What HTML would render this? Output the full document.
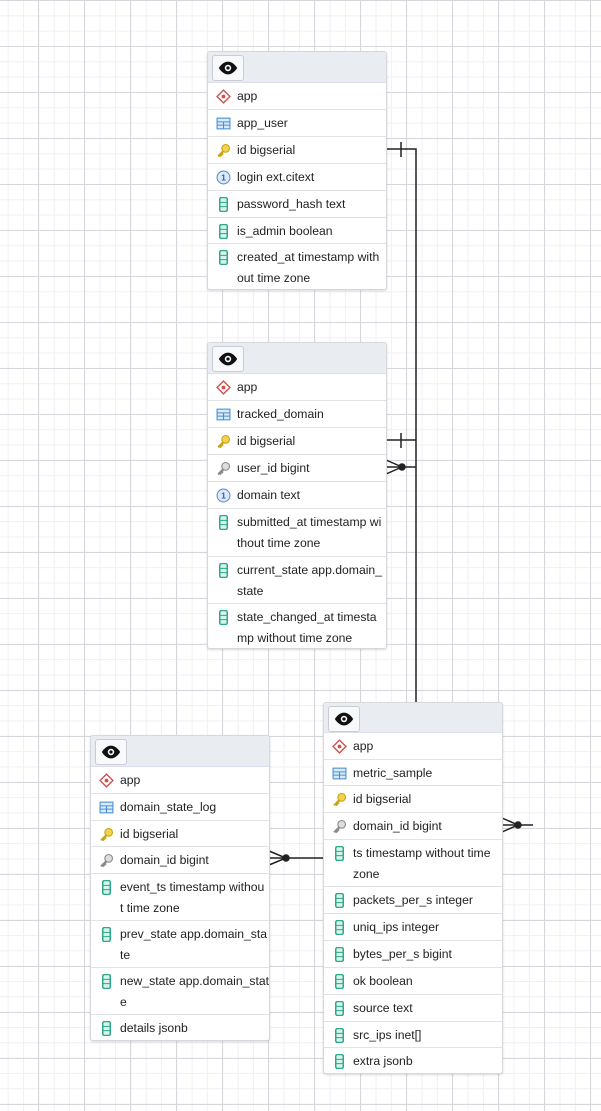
<!DOCTYPE html>
<html><head><meta charset="utf-8"><style>
body{margin:0;width:601px;height:1111px;position:relative;overflow:hidden;background:#fff;
background-image:linear-gradient(to right,#d6d6dc 1px,transparent 1px),linear-gradient(to bottom,#d6d6dc 1px,transparent 1px),linear-gradient(to right,#f0f0f5 1px,transparent 1px),linear-gradient(to bottom,#f0f0f5 1px,transparent 1px);
background-size:46px 46px,46px 46px,15.33px 15.33px,15.33px 15.33px;background-position:38px 46px,38px 46px,7.7px 0,0 0;
font-family:"Liberation Sans",sans-serif;font-size:12.2px;color:#222}
.t{position:absolute;width:178px;background:#fff;border:1px solid #d6d8dc;border-radius:3px;box-shadow:0 1px 2px rgba(0,0,0,.15);overflow:hidden}
.h{height:30px;background:#e9ecf1;position:relative;border-bottom:1px solid #dde}
.b{position:absolute;left:4px;top:3px;width:30px;height:24px;border:1px solid #c9ccd2;border-radius:3px;background:#f8f9fa}
.r{position:relative;border-bottom:1px solid #e2e3e6;box-sizing:border-box;padding-left:29px;line-height:21px;padding-top:3px;white-space:nowrap;overflow:hidden}
.r:last-child{border-bottom:none}
.r svg{position:absolute;left:8px;top:6px}
svg.lines{position:absolute;left:0;top:0}
</style></head><body>
<svg class="lines" width="601" height="1111" stroke="#222" stroke-width="1.5" fill="none">
<path d="M386 149H416V702"/><path d="M401 142V157"/>
<path d="M386 440H416"/><path d="M401 433V448"/>
<path d="M386 467H416M386 460L402 467L386 474"/><circle cx="402" cy="467" r="3" fill="#222"/>
<path d="M502 825H533M502 818L518 825L502 832"/><circle cx="518" cy="825" r="3" fill="#222"/>
<path d="M269 858H323M269 851L286 858L269 865"/><circle cx="286" cy="858" r="3" fill="#222"/>
</svg>
<svg width="0" height="0" style="position:absolute"><defs>
<symbol id="eye" viewBox="0 0 24 24"><path d="M12 5C6 5 2 12 2 12s4 7 10 7 10-7 10-7-4-7-10-7z" fill="#111"/><circle cx="12" cy="12" r="3.5" fill="#fff"/><circle cx="12" cy="12" r="1.8" fill="#111"/></symbol>
<symbol id="sch" viewBox="0 0 14 14"><path d="M7 1L13 7L7 13L1 7Z" fill="#fff" stroke="#d05050" stroke-width="1.3"/><circle cx="7" cy="7" r="1.8" fill="#d05050"/></symbol>
<symbol id="tab" viewBox="0 0 14 14"><rect x="1" y="2" width="12" height="10" fill="#dbeaf8" stroke="#4a90d0"/><path d="M1 5.5H13M1 8.5H13M7 5.5V12" stroke="#4a90d0"/></symbol>
<symbol id="pk" viewBox="0 0 14 14"><circle cx="9" cy="5" r="3.6" fill="#f3d34a" stroke="#c9a214"/><path d="M7 7.5L2 12.5M3.5 11L5 12.5M5 9.5L6.5 11" stroke="#c9a214" stroke-width="2"/></symbol>
<symbol id="fk" viewBox="0 0 14 14"><circle cx="9" cy="5" r="3.6" fill="#ddd" stroke="#888"/><path d="M7 7.5L2 12.5M3.5 11L5 12.5M5 9.5L6.5 11" stroke="#888" stroke-width="2"/></symbol>
<symbol id="uq" viewBox="0 0 14 14"><circle cx="7" cy="7" r="6" fill="#dceafa" stroke="#5a8fd0"/><text x="7" y="10" font-size="8" text-anchor="middle" fill="#2a5ea8" font-family="Liberation Sans" font-weight="bold">1</text></symbol>
<symbol id="col" viewBox="0 0 14 14"><rect x="3.5" y="0.5" width="7" height="13" rx="1.5" fill="#d8f3ec" stroke="#2fa88a" stroke-width="1.4"/><path d="M3.5 5H10.5M3.5 9H10.5" stroke="#2fa88a"/></symbol>
</defs></svg>

<div class="t" style="left:207px;top:51px">
<div class="h"><div class="b"><svg width="22" height="22" style="margin:1px 4px"><use href="#eye"/></svg></div></div>
<div class="r" style="height:27px"><svg width="15" height="15"><use href="#sch"/></svg>app</div>
<div class="r" style="height:27px"><svg width="15" height="15"><use href="#tab"/></svg>app_user</div>
<div class="r" style="height:27px"><svg width="15" height="15"><use href="#pk"/></svg>id bigserial</div>
<div class="r" style="height:27px"><svg width="15" height="15"><use href="#uq"/></svg>login ext.citext</div>
<div class="r" style="height:27px"><svg width="15" height="15"><use href="#col"/></svg>password_hash text</div>
<div class="r" style="height:26px"><svg width="15" height="15"><use href="#col"/></svg>is_admin boolean</div>
<div class="r" style="height:45px"><svg width="15" height="15"><use href="#col"/></svg>created_at timestamp with<br>out time zone</div>
</div>

<div class="t" style="left:207px;top:342px">
<div class="h"><div class="b"><svg width="22" height="22" style="margin:1px 4px"><use href="#eye"/></svg></div></div>
<div class="r" style="height:27px"><svg width="15" height="15"><use href="#sch"/></svg>app</div>
<div class="r" style="height:27px"><svg width="15" height="15"><use href="#tab"/></svg>tracked_domain</div>
<div class="r" style="height:27px"><svg width="15" height="15"><use href="#pk"/></svg>id bigserial</div>
<div class="r" style="height:27px"><svg width="15" height="15"><use href="#fk"/></svg>user_id bigint</div>
<div class="r" style="height:27px"><svg width="15" height="15"><use href="#uq"/></svg>domain text</div>
<div class="r" style="height:48px"><svg width="15" height="15"><use href="#col"/></svg>submitted_at timestamp wi<br>thout time zone</div>
<div class="r" style="height:47px"><svg width="15" height="15"><use href="#col"/></svg>current_state app.domain_<br>state</div>
<div class="r" style="height:44px"><svg width="15" height="15"><use href="#col"/></svg>state_changed_at timesta<br>mp without time zone</div>
</div>

<div class="t" style="left:90px;top:735px">
<div class="h"><div class="b"><svg width="22" height="22" style="margin:1px 4px"><use href="#eye"/></svg></div></div>
<div class="r" style="height:27px"><svg width="15" height="15"><use href="#sch"/></svg>app</div>
<div class="r" style="height:27px"><svg width="15" height="15"><use href="#tab"/></svg>domain_state_log</div>
<div class="r" style="height:26px"><svg width="15" height="15"><use href="#pk"/></svg>id bigserial</div>
<div class="r" style="height:27px"><svg width="15" height="15"><use href="#fk"/></svg>domain_id bigint</div>
<div class="r" style="height:47px"><svg width="15" height="15"><use href="#col"/></svg>event_ts timestamp withou<br>t time zone</div>
<div class="r" style="height:47px"><svg width="15" height="15"><use href="#col"/></svg>prev_state app.domain_sta<br>te</div>
<div class="r" style="height:47px"><svg width="15" height="15"><use href="#col"/></svg>new_state app.domain_stat<br>e</div>
<div class="r" style="height:25px"><svg width="15" height="15"><use href="#col"/></svg>details jsonb</div>
</div>

<div class="t" style="left:323px;top:702px">
<div class="h" style="height:29px"><div class="b"><svg width="22" height="22" style="margin:1px 4px"><use href="#eye"/></svg></div></div>
<div class="r" style="height:27px"><svg width="15" height="15"><use href="#sch"/></svg>app</div>
<div class="r" style="height:26px"><svg width="15" height="15"><use href="#tab"/></svg>metric_sample</div>
<div class="r" style="height:27px"><svg width="15" height="15"><use href="#pk"/></svg>id bigserial</div>
<div class="r" style="height:27px"><svg width="15" height="15"><use href="#fk"/></svg>domain_id bigint</div>
<div class="r" style="height:47px"><svg width="15" height="15"><use href="#col"/></svg>ts timestamp without time<br>zone</div>
<div class="r" style="height:27px"><svg width="15" height="15"><use href="#col"/></svg>packets_per_s integer</div>
<div class="r" style="height:27px"><svg width="15" height="15"><use href="#col"/></svg>uniq_ips integer</div>
<div class="r" style="height:27px"><svg width="15" height="15"><use href="#col"/></svg>bytes_per_s bigint</div>
<div class="r" style="height:27px"><svg width="15" height="15"><use href="#col"/></svg>ok boolean</div>
<div class="r" style="height:27px"><svg width="15" height="15"><use href="#col"/></svg>source text</div>
<div class="r" style="height:26px"><svg width="15" height="15"><use href="#col"/></svg>src_ips inet[]</div>
<div class="r" style="height:25px"><svg width="15" height="15"><use href="#col"/></svg>extra jsonb</div>
</div>
</body></html>
